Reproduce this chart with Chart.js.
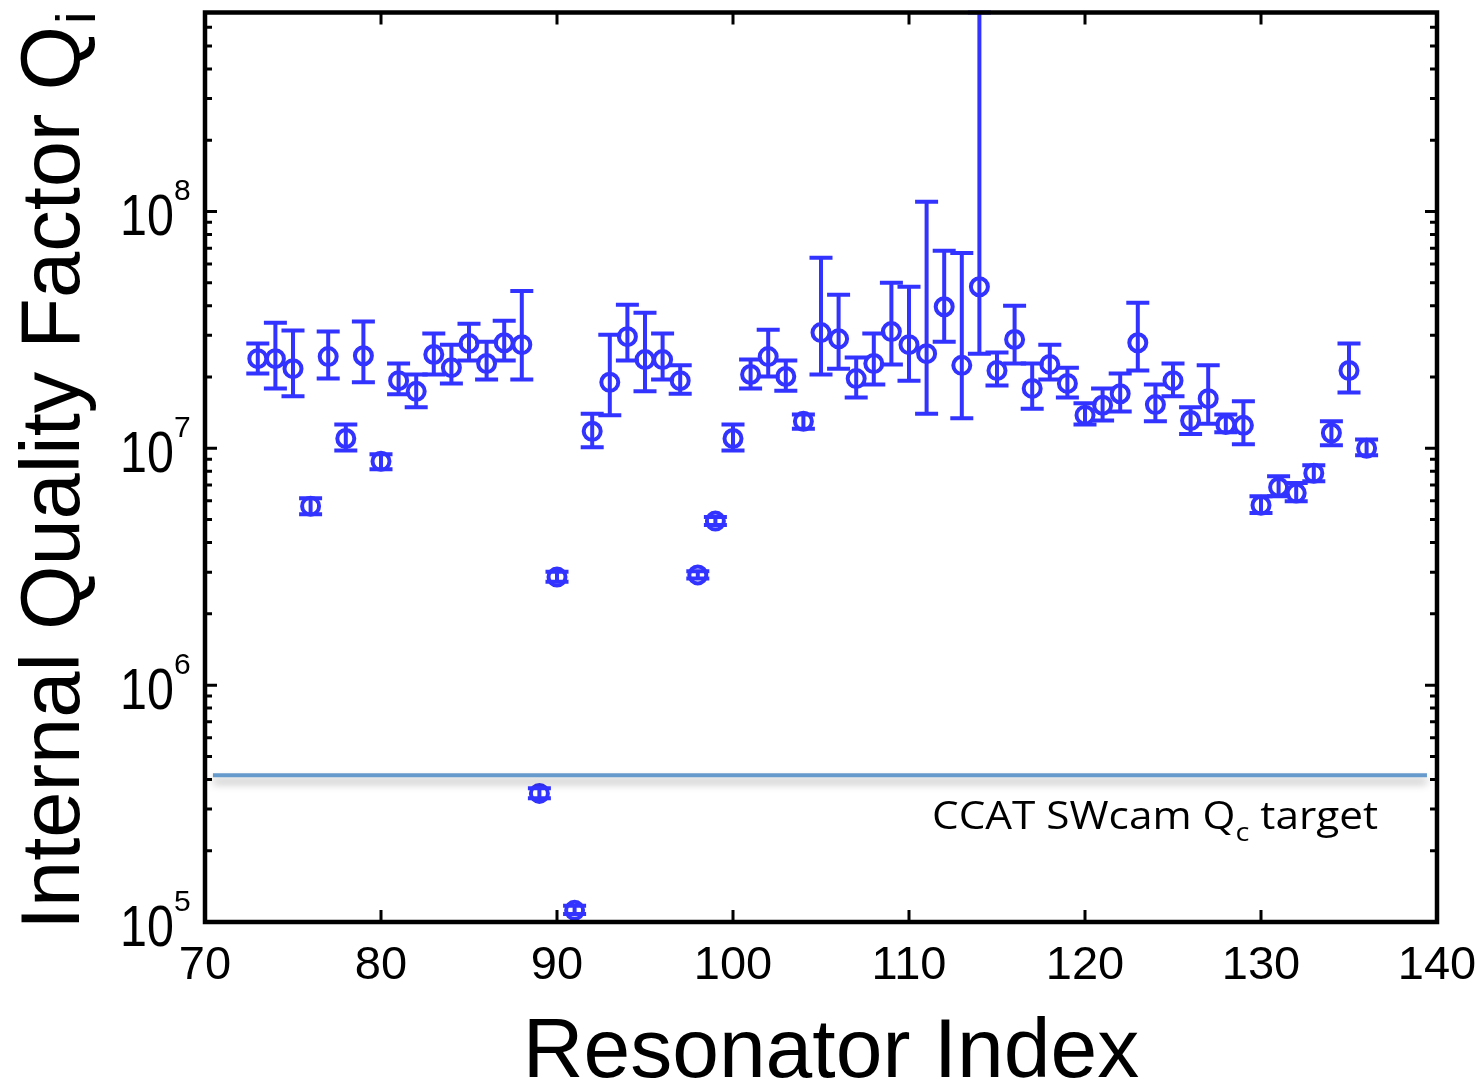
<!DOCTYPE html>
<html>
<head>
<meta charset="utf-8">
<script src="https://cdn.jsdelivr.net/npm/chart.js@4.4.1/dist/chart.umd.min.js"></script>
<style>
  html, body { margin: 0; padding: 0; background: #ffffff; }
  #wrap { width: 1482px; height: 1085px; position: relative; }
</style>
</head>
<body>
<div id="wrap"><canvas id="c" width="1482" height="1085" style="width:1482px;height:1085px"></canvas></div>
<script>
// ---------------- data ----------------
const resonatorIndex = [73,74,75,76,77,78,79,80,81,82,83,84,85,86,87,88,89,90,91,92,93,94,95,96,97,98,99,100,
  101,102,103,104,105,106,107,108,109,110,111,112,113,114,115,116,117,118,119,120,121,122,123,124,125,126,127,128,129,130,
  131,132,133,134,135,136];
const qiValue = [2.39e7,2.39e7,2.17e7,5.70e6,2.44e7,1.10e7,2.46e7,8.81e6,1.93e7,1.74e7,2.49e7,2.19e7,2.77e7,2.28e7,2.79e7,2.74e7,
  3.49e5,2.86e6,1.12e5,1.18e7,1.90e7,2.96e7,2.37e7,2.37e7,1.93e7,2.92e6,4.93e6,1.10e7,
  2.05e7,2.44e7,2.01e7,1.30e7,3.08e7,2.90e7,1.97e7,2.28e7,3.11e7,2.74e7,2.51e7,3.96e7,2.24e7,4.81e7,2.13e7,2.88e7,1.79e7,
  2.26e7,1.88e7,1.38e7,1.52e7,1.70e7,2.79e7,1.53e7,1.93e7,1.31e7,1.62e7,1.26e7,1.25e7,5.75e6,6.85e6,6.47e6,7.85e6,1.16e7,2.13e7,1.00e7];
const qiUpper = [2.77e7,3.39e7,3.14e7,6.16e6,3.11e7,1.26e7,3.43e7,9.44e6,2.28e7,2.05e7,3.05e7,2.74e7,3.36e7,2.82e7,3.46e7,4.62e7,
  3.67e5,3.01e6,1.17e5,1.40e7,3.02e7,4.04e7,3.74e7,3.05e7,2.24e7,3.03e6,5.13e6,1.26e7,
  2.37e7,3.17e7,2.35e7,1.39e7,6.37e7,4.45e7,2.42e7,3.05e7,5.00e7,4.81e7,1.10e8,6.82e7,6.68e7,6.92e8,2.54e7,4.00e7,2.28e7,
  2.74e7,2.19e7,1.55e7,1.79e7,2.07e7,4.12e7,1.86e7,2.28e7,1.49e7,2.24e7,1.39e7,1.58e7,6.28e6,7.62e6,7.13e6,8.48e6,1.30e7,2.77e7,1.09e7];
const qiLower = [2.07e7,1.79e7,1.66e7,5.27e6,1.97e7,9.8e6,1.90e7,8.16e6,1.69e7,1.49e7,2.05e7,1.88e7,2.35e7,1.95e7,2.35e7,1.95e7,
  3.33e5,2.73e6,1.08e5,1.01e7,1.38e7,2.35e7,1.74e7,1.95e7,1.70e7,2.82e6,4.74e6,9.8e6,
  1.79e7,2.01e7,1.75e7,1.21e7,2.05e7,2.17e7,1.64e7,1.86e7,2.26e7,1.93e7,1.40e7,2.82e7,1.34e7,2.51e7,1.84e7,2.28e7,1.47e7,
  1.95e7,1.64e7,1.26e7,1.31e7,1.43e7,2.13e7,1.30e7,1.66e7,1.15e7,1.27e7,1.17e7,1.04e7,5.33e6,6.28e6,5.98e6,7.26e6,1.03e7,1.72e7,9.35e6];
const targetQc = 4.16e5;
const targetSpan = [70.45, 139.43];
const xTickValues = [70, 80, 90, 100, 110, 120, 130, 140];
const yTickExponents = [5, 6, 7, 8];
const xAxisTitle = 'Resonator Index';
const yAxisTitle = 'Internal Quality Factor Q';
const yAxisSub = 'i';
const targetLabel = ['CCAT SWcam Q', 'c', ' target'];

const BLUE = '#3333ff';
const FONT = '"Liberation Sans", Arial, Helvetica, sans-serif';

const decor = {
  id: 'decor',
  beforeDatasetDraw(chart, args) {
    if (args.index === 0) {
      const c = chart.ctx;
      c.save();
      c.shadowColor = 'rgba(0,0,0,0.35)';
      c.shadowBlur = 9;
      c.shadowOffsetY = 6;
    }
  },
  afterDatasetDraw(chart, args) {
    if (args.index === 0) chart.ctx.restore();
  },
  afterDatasetsDraw(chart) {
    const c = chart.ctx, xs = chart.scales.x, ys = chart.scales.y;
    c.save();
    c.strokeStyle = BLUE;
    c.lineWidth = 4;
    c.lineCap = 'butt';
    for (let i = 0; i < resonatorIndex.length; i++) {
      const x = xs.getPixelForValue(resonatorIndex[i]);
      const yt = ys.getPixelForValue(qiUpper[i]);
      const yb = ys.getPixelForValue(qiLower[i]);
      c.beginPath();
      c.moveTo(x, yt); c.lineTo(x, yb);
      c.moveTo(x - 11.5, yt); c.lineTo(x + 11.5, yt);
      c.moveTo(x - 11.5, yb); c.lineTo(x + 11.5, yb);
      c.stroke();
    }
    c.restore();
  },
  afterDraw(chart) {
    const c = chart.ctx, xs = chart.scales.x, ys = chart.scales.y, a = chart.chartArea;
    c.save();
    // frame
    c.strokeStyle = '#000';
    c.lineWidth = 4.5;
    c.strokeRect(a.left, a.top, a.right - a.left, a.bottom - a.top);
    // x ticks
    c.lineWidth = 3;
    c.beginPath();
    xTickValues.forEach(v => {
      const x = xs.getPixelForValue(v);
      c.moveTo(x, a.bottom); c.lineTo(x, a.bottom - 12);
      c.moveTo(x, a.top); c.lineTo(x, a.top + 12);
    });
    // y ticks
    yTickExponents.forEach(e => {
      const y = ys.getPixelForValue(Math.pow(10, e));
      c.moveTo(a.left, y); c.lineTo(a.left + 12, y);
      c.moveTo(a.right, y); c.lineTo(a.right - 12, y);
      for (let m = 2; m <= 9; m++) {
        const v = m * Math.pow(10, e);
        if (v > ys.max) break;
        const ym = ys.getPixelForValue(v);
        c.moveTo(a.left, ym); c.lineTo(a.left + 7, ym);
        c.moveTo(a.right, ym); c.lineTo(a.right - 7, ym);
      }
    });
    c.stroke();

    c.fillStyle = '#000';
    // x tick labels
    c.font = '47px ' + FONT;
    c.textAlign = 'center';
    c.textBaseline = 'alphabetic';
    xTickValues.forEach(v => {
      c.fillText(String(v), xs.getPixelForValue(v), 979);
    });
    // y tick labels 10^e
    yTickExponents.forEach(e => {
      const y = ys.getPixelForValue(Math.pow(10, e));
      c.save();
      c.translate(174, y + 24);
      c.scale(0.85, 1);
      c.font = '57px ' + FONT;
      c.textAlign = 'right';
      c.fillText('10', 0, 0);
      c.restore();
      c.font = '30px ' + FONT;
      c.textAlign = 'left';
      c.fillText(String(e), 174, y - 11);
    });
    // x axis title
    c.font = '84px ' + FONT;
    c.textAlign = 'center';
    c.fillText(xAxisTitle, 831, 1077);
    // y axis title (rotated)
    c.save();
    c.translate(79, 930);
    c.rotate(-Math.PI / 2);
    c.font = '83px ' + FONT;
    c.textAlign = 'left';
    c.fillText(yAxisTitle, 0, 0);
    const w = c.measureText(yAxisTitle).width;
    c.font = '56px ' + FONT;
    c.fillText(yAxisSub, w + 2, 16);
    c.restore();
    // target label
    c.save();
    const big = '38px "Open Sans", sans-serif', small = '26px "Open Sans", sans-serif';
    c.font = big; const w1 = c.measureText(targetLabel[0]).width;
    c.font = small; const w2 = c.measureText(targetLabel[1]).width;
    c.font = big; const w3 = c.measureText(targetLabel[2]).width;
    const total = w1 + w2 + w3;
    const sx = 446 / total;
    c.translate(932, 829);
    c.scale(sx, 1);
    c.textAlign = 'left';
    c.font = big; c.fillText(targetLabel[0], 0, 0);
    c.font = small; c.fillText(targetLabel[1], w1, 12);
    c.font = big; c.fillText(targetLabel[2], w1 + w2, 0);
    c.restore();
    c.restore();
  }
};

new Chart(document.getElementById('c'), {
  type: 'scatter',
  data: {
    datasets: [
      {
        type: 'line',
        label: 'CCAT SWcam Qc target',
        data: targetSpan.map(x => ({ x: x, y: targetQc })),
        borderColor: '#6699cc',
        borderWidth: 4,
        pointRadius: 0,
        fill: false
      },
      {
        label: 'Qi',
        data: resonatorIndex.map((x, i) => ({ x: x, y: qiValue[i] })),
        pointStyle: 'circle',
        pointRadius: 8.5,
        pointBorderWidth: 4,
        borderColor: BLUE,
        backgroundColor: 'rgba(0,0,0,0)',
        pointBackgroundColor: 'rgba(0,0,0,0)',
        showLine: false
      }
    ]
  },
  options: {
    responsive: false,
    animation: false,
    devicePixelRatio: 1,
    layout: { padding: { left: 205, right: 45, top: 10, bottom: 163 } },
    plugins: { legend: { display: false }, tooltip: { enabled: false } },
    scales: {
      x: { type: 'linear', min: 70, max: 140, display: false },
      y: { type: 'logarithmic', min: 1e5, max: 6.92e8, display: false }
    }
  },
  plugins: [decor]
});
</script>
</body>
</html>
